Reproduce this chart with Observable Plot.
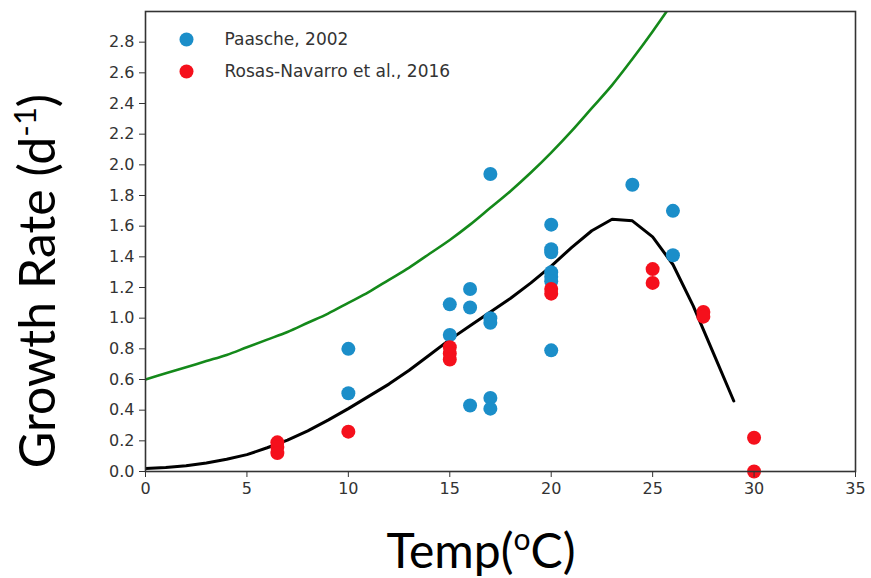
<!DOCTYPE html>
<html>
<head>
<meta charset="utf-8">
<script src="https://cdn.jsdelivr.net/npm/d3@7"></script>
<script src="https://cdn.jsdelivr.net/npm/@observablehq/plot@0.6"></script>
<style>
  html, body { margin: 0; padding: 0; background: #fff; }
  #chart { width: 871px; height: 578px; }
</style>
</head>
<body>
<div id="chart"></div>
<script>
// Paasche, 2002 (blue)
const paascheT = [10, 10, 15, 15, 16, 16, 16, 17, 17, 17, 17, 17, 20, 20, 20, 20, 20, 20, 20, 24, 26, 26];
const paascheRate = [0.80, 0.51, 1.09, 0.89, 1.19, 1.07, 0.43, 1.94, 1.00, 0.97, 0.48, 0.41, 1.61, 1.45, 1.43, 1.30, 1.27, 1.24, 0.79, 1.87, 1.70, 1.41];

// Rosas-Navarro et al., 2016 (red)
const rosasT = [6.5, 6.5, 6.5, 10, 15, 15, 15, 20, 20, 25, 25, 27.5, 27.5, 30, 30];
const rosasRate = [0.19, 0.16, 0.12, 0.26, 0.81, 0.77, 0.73, 1.19, 1.16, 1.32, 1.23, 1.04, 1.01, 0.22, 0.00];

// Model curve (black)
const modelT = [0, 1, 2, 3, 4, 5, 6, 7, 8, 9, 10, 11, 12, 13, 14, 15, 16, 17, 18, 19, 20, 21, 22, 23, 24, 25, 26, 27, 28, 29];
const modelRate = [0.02, 0.026, 0.038, 0.056, 0.08, 0.11, 0.155, 0.205, 0.265, 0.335, 0.41, 0.49, 0.57, 0.66, 0.76, 0.86, 0.95, 1.04, 1.13, 1.23, 1.34, 1.46, 1.57, 1.645, 1.635, 1.53, 1.35, 1.08, 0.77, 0.46];

// Upper curve (green)
const upperT = [0, 1, 2, 3, 4, 5, 6, 7, 8, 9, 10, 11, 12, 13, 14, 15, 16, 17, 18, 19, 20, 21, 22, 23, 24, 25, 26];
const upperRate = [0.60, 0.64, 0.68, 0.72, 0.76, 0.81, 0.86, 0.91, 0.97, 1.03, 1.10, 1.17, 1.25, 1.33, 1.42, 1.51, 1.61, 1.72, 1.83, 1.95, 2.08, 2.22, 2.37, 2.52, 2.69, 2.87, 3.06];

// Ticks
const xTicks = [0, 5, 10, 15, 20, 25, 30, 35];
const yTicks = [0.0, 0.2, 0.4, 0.6, 0.8, 1.0, 1.2, 1.4, 1.6, 1.8, 2.0, 2.2, 2.4, 2.6, 2.8];

// Legend
const legendLabels = ["Paasche, 2002", "Rosas-Navarro et al., 2016"];
const legendColors = ["#1b8ec9", "#f5101c"];

const paasche = paascheT.map((t, i) => ({t, r: paascheRate[i]}));
const rosas = rosasT.map((t, i) => ({t, r: rosasRate[i]}));
const model = modelT.map((t, i) => ({t, r: modelRate[i]}));
const upper = upperT.map((t, i) => ({t, r: upperRate[i]}));

const tickFont = "'DejaVu Sans', sans-serif";

const legendMarks = legendLabels.flatMap((label, i) => [
  Plot.dot([label], {frameAnchor: "top-left", dx: 41, dy: 28 + i * 32, r: 7, fill: legendColors[i], stroke: "none"}),
  Plot.text([label], {frameAnchor: "top-left", dx: 79, dy: 28 + i * 32, text: d => d, textAnchor: "start", fontSize: 17, fill: "#333", lineAnchor: "middle"})
]);

const chart = Plot.plot({
  width: 871,
  height: 578,
  marginLeft: 145,
  marginRight: 16,
  marginTop: 11,
  marginBottom: 107,
  style: {fontFamily: tickFont, fontSize: "16px", color: "#333", background: "#fff"},
  x: {domain: [0, 35]},
  y: {domain: [0, 3.0]},
  marks: [
    Plot.line(upper, {x: "t", y: "r", stroke: "#14891a", strokeWidth: 2.6, curve: "catmull-rom", clip: true}),
    Plot.line(model, {x: "t", y: "r", stroke: "#000", strokeWidth: 3, clip: true}),
    Plot.dot(paasche, {x: "t", y: "r", r: 7, fill: legendColors[0], stroke: "none"}),
    Plot.dot(rosas, {x: "t", y: "r", r: 7, fill: legendColors[1], stroke: "none"}),
    Plot.frame({stroke: "#333", strokeWidth: 1.6}),
    Plot.axisX({ticks: xTicks, tickSize: 6, tickPadding: 5, tickFormat: d => String(d), label: null, stroke: "#333", fontSize: 16}),
    Plot.axisY({ticks: yTicks, tickSize: 6, tickPadding: 5, tickFormat: d => d.toFixed(1), label: null, stroke: "#333", fontSize: 16}),
    ...legendMarks
  ]
});

document.getElementById("chart").appendChild(chart);

// Axis titles with superscripts
const svg = d3.select(chart);
const xt = svg.append("text")
  .attr("x", 481).attr("y", 568)
  .attr("text-anchor", "middle")
  .style("font-family", "Lato, 'Open Sans', sans-serif")
  .style("font-size", "48px")
  .attr("fill", "#000");
xt.append("tspan").text("Temp(");
xt.append("tspan").text("o").attr("dy", -18).style("font-size", "30px");
xt.append("tspan").text("C)").attr("dy", 18);

const yt = svg.append("text")
  .attr("transform", "translate(55,281) rotate(-90)")
  .attr("text-anchor", "middle")
  .style("font-family", "Lato, 'Open Sans', sans-serif")
  .style("font-size", "50px")
  .attr("fill", "#000");
yt.append("tspan").text("Growth Rate (d");
yt.append("tspan").text("-1").attr("dy", -19).style("font-size", "31px");
yt.append("tspan").text(")").attr("dy", 19);
</script>
</body>
</html>
